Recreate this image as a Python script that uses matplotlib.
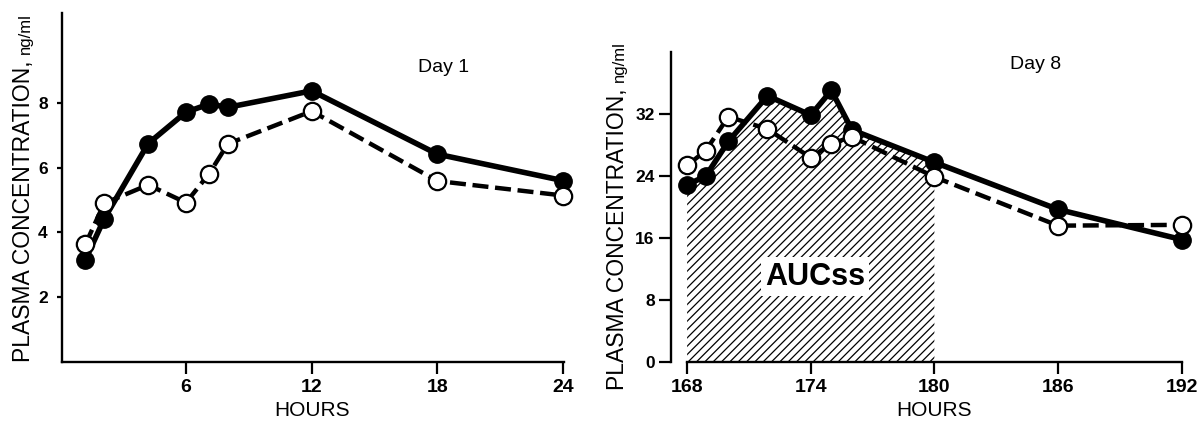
import matplotlib
matplotlib.use('Agg')
import matplotlib.pyplot as plt

plt.rcParams['font.family'] = ['Liberation Sans', 'DejaVu Sans']
plt.rcParams['hatch.linewidth'] = 0.9

# Day 1 (hours after first dose)
t1 = [1.2, 2.1, 4.2, 6.0, 7.1, 8.0, 12.0, 18.0, 24.0]
day1_solid = [3.15, 4.42, 6.75, 7.72, 7.97, 7.87, 8.38, 6.42, 5.6]
day1_open = [3.63, 4.9, 5.47, 4.92, 5.81, 6.74, 7.75, 5.59, 5.14]

# Day 8 (steady state)
t8 = [168.0, 168.9, 170.0, 171.9, 174.0, 175.0, 176.0, 180.0, 186.0, 192.0]
day8_solid = [22.9, 24.0, 28.5, 34.4, 31.9, 35.1, 30.0, 25.8, 19.7, 15.8]
day8_open = [25.4, 27.3, 31.7, 30.1, 26.4, 28.2, 29.1, 23.9, 17.6, 17.7]
auc_end = 180.0

xticks1 = [6, 12, 18, 24]
yticks1 = [2, 4, 6, 8]
xticks8 = [168, 174, 180, 186, 192]
yticks8 = [0, 8, 16, 24, 32]

fig = plt.figure(figsize=(11.98, 4.21), dpi=100)
ax1 = fig.add_axes([0.052, 0.141, 0.419, 0.829])
ax2 = fig.add_axes([0.5598, 0.141, 0.4317, 0.736])

dash = (0, (3.6, 1.5))

def style_axes(ax, ylen, ypad):
    for s in ['top', 'right']:
        ax.spines[s].set_visible(False)
    for s in ['left', 'bottom']:
        ax.spines[s].set_linewidth(1.7)
    ax.tick_params(axis='x', direction='out', length=8.5, width=1.6, pad=4,
                   labelsize=14)
    ax.tick_params(axis='y', direction='out', length=ylen, width=1.6, pad=ypad,
                   labelsize=12.5)
    for lab in ax.get_xticklabels() + ax.get_yticklabels():
        lab.set_fontweight('bold')
    ax.set_xlabel('HOURS', fontsize=15)

# ---- Day 1 ----
ax1.plot(t1, day1_solid, '-', color='black', lw=4, marker='o', ms=12.5,
         mfc='black', mec='black', clip_on=False, zorder=3)
ax1.plot(t1, day1_open, linestyle=dash, color='black', lw=3.2, marker='o', ms=12.5,
         mfc='white', mec='black', mew=1.6, clip_on=False, zorder=4)
ax1.set_xlim(0.1, 24.05)
ax1.set_ylim(0, 10.8)
ax1.set_xticks(xticks1)
ax1.set_yticks(yticks1)
style_axes(ax1, 3.5, 7)
ax1.xaxis.set_label_coords((12 - 0.1) / (24.05 - 0.1), -0.112)
ax1.text(18.3, 9.1, 'Day 1', fontsize=14, ha='center', va='center')

# ---- Day 8 ----
n = t8.index(auc_end) + 1
ax2.fill_between(t8[:n], day8_solid[:n], 0, facecolor='white', edgecolor='black',
                 hatch='////', linewidth=0, zorder=1)
ax2.plot(t8, day8_solid, '-', color='black', lw=4, marker='o', ms=12.5,
         mfc='black', mec='black', clip_on=False, zorder=3)
ax2.plot(t8, day8_open, linestyle=dash, color='black', lw=3.2, marker='o', ms=12.5,
         mfc='white', mec='black', mew=1.6, clip_on=False, zorder=4)
ax2.set_xlim(167.2, 192.3)
ax2.set_ylim(0, 40.1)
ax2.set_xticks(xticks8)
ax2.set_yticks(yticks8)
ax2.spines['bottom'].set_bounds(168, 192)
ax2.spines['left'].set_bounds(0, 40.1)
style_axes(ax2, 8.5, 3)
ax2.xaxis.set_label_coords((180 - 167.2) / (192.3 - 167.2), -0.126)
ax2.text(184.9, 38.4, 'Day 8', fontsize=14, ha='center', va='center')
ax2.text(174.2, 11.0, 'AUCss', fontsize=22, fontweight='bold', ha='center',
         va='center', zorder=2,
         bbox=dict(facecolor='white', edgecolor='none', pad=3))

# y labels: big text followed by smaller unit
fig.canvas.draw()
r = fig.canvas.get_renderer()
H = fig.bbox.height
for xb, yb in [(0.025, 0.140), (0.521, 0.0736)]:
    t = fig.text(xb, yb, 'PLASMA CONCENTRATION, ', fontsize=16.5, rotation=90,
                 rotation_mode='anchor', ha='left', va='baseline')
    bb = t.get_window_extent(r)
    fig.text(xb, bb.y1 / H, 'ng/ml', fontsize=12, rotation=90,
             rotation_mode='anchor', ha='left', va='baseline')

fig.savefig('out.png', dpi=100)
